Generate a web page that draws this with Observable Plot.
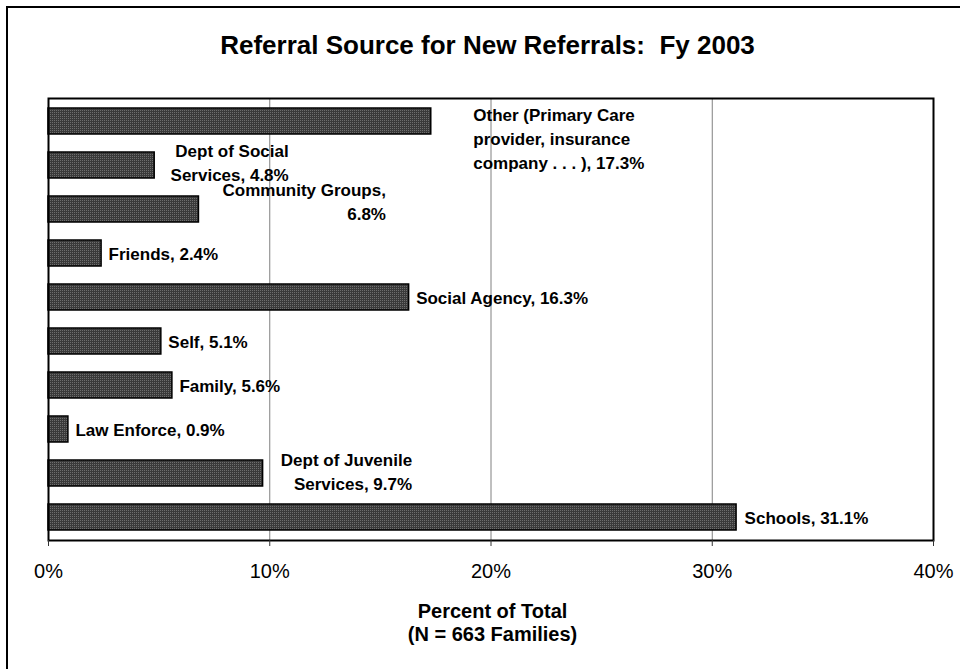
<!DOCTYPE html>
<html>
<head>
<meta charset="utf-8">
<script src="https://cdn.jsdelivr.net/npm/d3@7"></script>
<script src="https://cdn.jsdelivr.net/npm/@observablehq/plot@0.6"></script>
<style>
  html, body { margin: 0; padding: 0; background: #fff; }
  #wrap { position: relative; width: 960px; height: 669px; overflow: hidden; background: #fff; }
  #border { position: absolute; left: 6px; top: 6px; width: 1000px; height: 1000px; border: 2px solid #000; pointer-events: none; }
  svg { display: block; }
</style>
</head>
<body>
<div id="wrap"><div id="border"></div></div>
<script>
const categories = ["Other", "Dept of Social Services", "Community Groups", "Friends", "Social Agency", "Self", "Family", "Law Enforce", "Dept of Juvenile Services", "Schools"];
const values = [17.3, 4.8, 6.8, 2.4, 16.3, 5.1, 5.6, 0.9, 9.7, 31.1];
const labels = [
  "Other (Primary Care\nprovider, insurance\ncompany . . . ), 17.3%",
  "Dept of Social\nServices, 4.8%",
  "Community Groups,\n6.8%",
  "Friends, 2.4%",
  "Social Agency, 16.3%",
  "Self, 5.1%",
  "Family, 5.6%",
  "Law Enforce, 0.9%",
  "Dept of Juvenile\nServices, 9.7%",
  "Schools, 31.1%"
];
const xTicks = [0, 10, 20, 30, 40];
const gridLines = [10, 20, 30];
const titleText = "Referral Source for New Referrals:  Fy 2003";
const axisTitle = "Percent of Total\n(N = 663 Families)";

// label placement (style only)
const labelLayout = [
  {anchor: "start", dx: 42, dy: 16},
  {anchor: "end", dx: 134, dy: -4.5},
  {anchor: "end", dx: 187, dy: -9},
  {anchor: "start", dx: 7, dy: -1.5},
  {anchor: "start", dx: 7, dy: -1.5},
  {anchor: "start", dx: 7, dy: -1.5},
  {anchor: "start", dx: 7, dy: -1.5},
  {anchor: "start", dx: 7, dy: -1.5},
  {anchor: "end", dx: 149, dy: -3.5},
  {anchor: "start", dx: 8, dy: -1.5}
];

const data = categories.map((c, i) => ({category: c, value: values[i], label: labels[i]}));
const FONT = "'Liberation Sans', Arial, Helvetica, sans-serif";

const labelMarks = data.map((d, i) => Plot.text([d], {
  x: "value", y: "category", text: "label",
  textAnchor: labelLayout[i].anchor, dx: labelLayout[i].dx, dy: labelLayout[i].dy,
  lineAnchor: "middle", lineHeight: 1.4,
  fontSize: 17, fontWeight: "bold", fill: "#000"
}));

const chart = Plot.plot({
  width: 960, height: 669,
  marginLeft: 48, marginRight: 27, marginTop: 98, marginBottom: 129,
  style: {fontFamily: FONT, background: "transparent", overflow: "visible", color: "#000"},
  x: {domain: [0, 40], ticks: xTicks, tickFormat: d => d + "%"},
  y: {domain: categories, paddingInner: 0.42, paddingOuter: 0.21, axis: null},
  marks: [
    Plot.ruleX(gridLines, {stroke: "#808080", strokeWidth: 1}),
    Plot.barX(data, {x: "value", y: "category", fill: "url(#hatch)", stroke: "#000", strokeWidth: 1.5}),
    ...labelMarks,
    Plot.frame({stroke: "#000", strokeWidth: 2}),
    Plot.axisX(xTicks, {tickSize: 6, tickPadding: 17, fontSize: 20, label: null, stroke: "#333", tickFormat: d => d + "%"}),
    Plot.text([titleText], {frameAnchor: "top", dx: -3.5, dy: -45, lineAnchor: "bottom", fontSize: 26, fontWeight: "bold", fill: "#000"}),
    Plot.text([axisTitle], {frameAnchor: "bottom", dx: 1.5, dy: 61, lineAnchor: "top", lineHeight: 1.15, fontSize: 20, fontWeight: "bold", fill: "#000"})
  ]
});

// hatch pattern for bars
const ns = "http://www.w3.org/2000/svg";
const defs = document.createElementNS(ns, "defs");
defs.innerHTML = `<pattern id="hatch" width="2" height="2" patternUnits="userSpaceOnUse">
  <rect width="2" height="2" fill="#3a3a3a"></rect>
  <rect width="1" height="1" fill="#6e6e6e"></rect>
</pattern>`;
chart.insertBefore(defs, chart.firstChild);

document.getElementById("wrap").insertBefore(chart, document.getElementById("border"));
</script>
</body>
</html>
